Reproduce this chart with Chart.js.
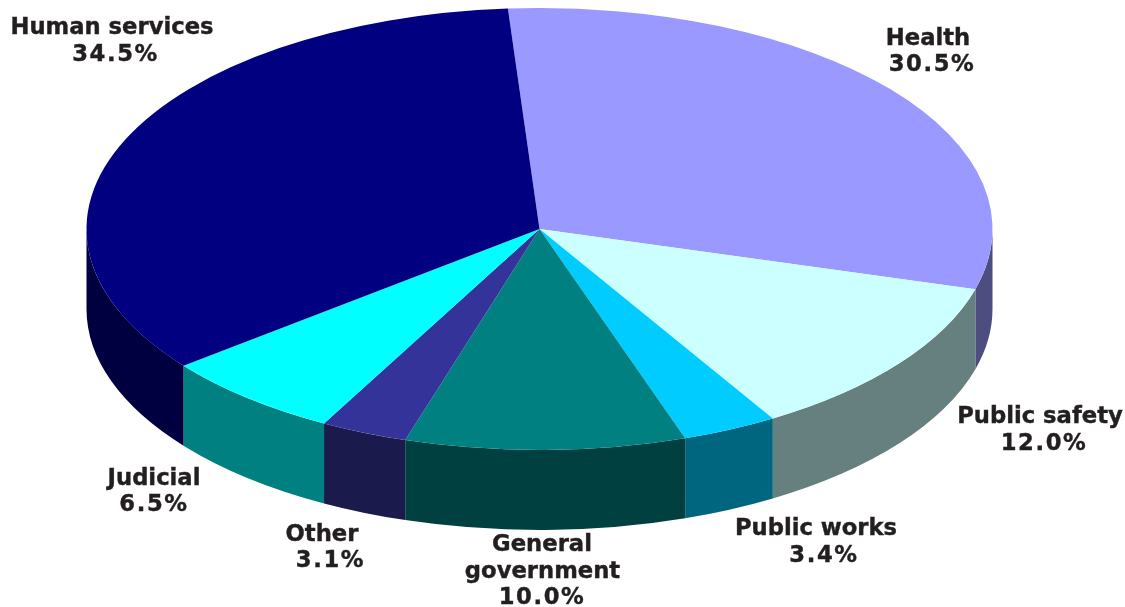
<!DOCTYPE html>
<html><head><meta charset="utf-8">
<style>html,body{margin:0;padding:0;background:#fff}#w{width:1125px;height:607px;position:relative}</style>
<script src="https://cdn.jsdelivr.net/npm/chart.js@4"></script></head>
<body><div id="w"><canvas id="c" width="1125" height="607"></canvas></div>
<script>
const categories = ["Health","Public safety","Public works","General government","Other","Judicial","Human services"];
const values = [30.5,12.0,3.4,10.0,3.1,6.5,34.5];
const topColors = ["#9999ff","#ccffff","#00ccff","#008080","#333399","#00ffff","#000080"];
const sideColors = ["#4d4d80","#668080","#006680","#004040","#1a1a4d","#008080","#000040"];
const labelLines = [["Health","30.5%"],["Public safety","12.0%"],["Public works","3.4%"],["General","government","10.0%"],["Other","3.1%"],["Judicial","6.5%"],["Human services","34.5%"]];
const labelAnchors = [
  [[928,39],[932,65]],
  [[1040,417],[1044,444]],
  [[816,529],[824,556]],
  [[542,545],[542.5,572],[542,598]],
  [[322,535],[330.5,561]],
  [[154,479],[154,505]],
  [[112,28],[115.5,55]]
];
const rotation = -4;
const view = {rx:453, ry:221, depth:80};

const pie3d = {
  id:'pie3d',
  beforeDatasetsDraw(chart){
    const ctx=chart.ctx, arcs=chart.getDatasetMeta(0).data;
    const a0=arcs[0];
    ctx.save();
    arcs.forEach((a,i)=>{
      const s=Math.max(a.startAngle,0), e=Math.min(a.endAngle,Math.PI);
      const s2=a.startAngle-2*Math.PI, e2=a.endAngle-2*Math.PI;
      [[s,e],[Math.max(s2,0),Math.min(e2,Math.PI)]].forEach(([p,q])=>{
        if(q<=p) return;
        ctx.beginPath();
        ctx.ellipse(a.x,a.y,view.rx,view.ry,0,p,q,false);
        ctx.ellipse(a.x,a.y+view.depth,view.rx,view.ry,0,q,p,true);
        ctx.closePath();
        ctx.fillStyle=sideColors[i];
        ctx.fill();
      });
    });
    ctx.restore();
    ctx.save();
    ctx.translate(a0.x,a0.y);
    ctx.scale(view.rx/a0.outerRadius,view.ry/a0.outerRadius);
    ctx.translate(-a0.x,-a0.y);
  },
  afterDatasetsDraw(chart){
    const ctx=chart.ctx;
    ctx.restore();
    ctx.save();
    ctx.font='bold 22.7px "DejaVu Sans"';
    ctx.fillStyle='#231f20';
    ctx.strokeStyle='#231f20';
    ctx.lineWidth=0.4;
    ctx.textAlign='center';
    ctx.textBaseline='middle';
    labelLines.forEach((lines,i)=>{
      lines.forEach((t,j)=>{
        const [x,y]=labelAnchors[i][j];
        ctx.letterSpacing = t.endsWith('%') ? '1.6px' : '0px';
        ctx.fillText(t,x,y);
        ctx.strokeText(t,x,y);
      });
    });
    ctx.restore();
  }
};

new Chart(document.getElementById('c'),{
  type:'pie',
  data:{labels:categories,datasets:[{data:values,backgroundColor:topColors,borderWidth:0,hoverOffset:0}]},
  options:{
    responsive:false,animation:false,rotation:rotation,
    layout:{padding:{left:0,right:46,top:0,bottom:149}},
    plugins:{legend:{display:false},tooltip:{enabled:false}}
  },
  plugins:[pie3d]
});
</script></body></html>
